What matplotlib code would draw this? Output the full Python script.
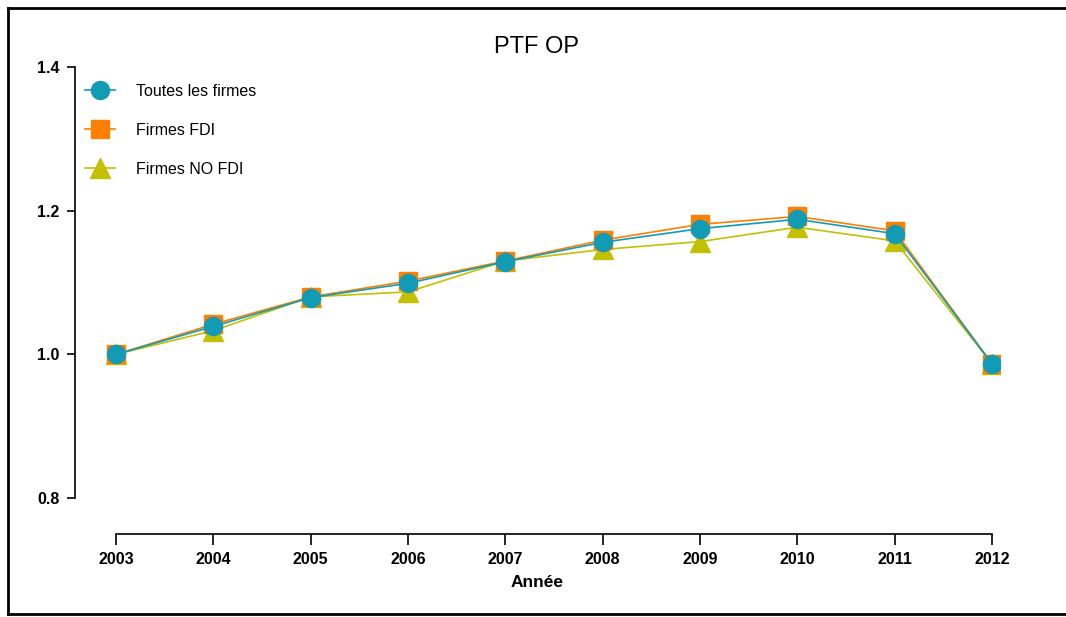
import matplotlib
matplotlib.use('Agg')
import matplotlib.pyplot as plt
from matplotlib.lines import Line2D

annees = [2003, 2004, 2005, 2006, 2007, 2008, 2009, 2010, 2011, 2012]
toutes = [1.000, 1.039, 1.079, 1.099, 1.129, 1.156, 1.175, 1.188, 1.168, 0.987]
fdi = [1.000, 1.042, 1.080, 1.102, 1.130, 1.159, 1.181, 1.192, 1.172, 0.987]
no_fdi = [1.000, 1.033, 1.080, 1.087, 1.130, 1.146, 1.157, 1.177, 1.158, 0.987]
y_ticks = [0.8, 1.0, 1.2, 1.4]

teal = "#119bb5"
orange = "#ff7f00"
olive = "#c2c000"

plt.rcParams['font.family'] = ['Liberation Sans', 'DejaVu Sans']

fig = plt.figure(figsize=(10.66, 6.17), dpi=100)
ax = fig.add_axes([75/1066, 1 - 534/617, 925/1066, 467/617])

ax.plot(annees, no_fdi, color=olive, lw=1.2, marker='^', ms=14, mec=olive, zorder=3)
ax.plot(annees, fdi, color=orange, lw=1.2, marker='s', ms=13, mec=orange, zorder=4)
ax.plot(annees, toutes, color=teal, lw=1.2, marker='o', ms=13, mec=teal, zorder=5)

ax.set_xlim(2003 - 41/97.33, 2012 + 8/97.33)
ax.set_ylim(0.75, 1.4)
ax.set_xticks(annees)
ax.set_yticks(y_ticks)
ax.set_xticklabels([str(a) for a in annees], fontsize=11.5, fontweight='bold')
ax.set_yticklabels([f"{v:.1f}" for v in y_ticks], fontsize=11.5, fontweight='bold')

ax.spines['right'].set_visible(False)
ax.spines['top'].set_visible(False)
ax.spines['left'].set_bounds(0.8, 1.4)
ax.spines['bottom'].set_bounds(2003, 2012)
ax.spines['left'].set_linewidth(1.2)
ax.spines['bottom'].set_linewidth(1.2)
ax.tick_params(axis='x', length=8, width=1.2, pad=5)
ax.tick_params(axis='y', length=6, width=1.2, pad=5)

ax.set_xlabel("Année", fontsize=12.5, fontweight='bold', labelpad=6)
fig.text(537/1066, 1 - 47/617, "PTF OP", fontsize=17, ha='center', va='center')

handles = [
    Line2D([], [], color=teal, lw=1.2, marker='o', ms=13, mec=teal),
    Line2D([], [], color=orange, lw=1.2, marker='s', ms=13, mec=orange),
    Line2D([], [], color=olive, lw=1.2, marker='^', ms=14, mec=olive),
]
ax.legend(handles, ["Toutes les firmes", "Firmes FDI", "Firmes NO FDI"],
          loc='upper left', bbox_to_anchor=(0.0, 0.985), frameon=False,
          fontsize=11.5, handlelength=1.9, handletextpad=1.3, labelspacing=1.5,
          borderaxespad=0.2)

# cadre autour de la figure
fig.add_artist(Line2D([8/1066, 1], [1 - 8/617, 1 - 8/617], color='black', lw=2))
fig.add_artist(Line2D([8/1066, 8/1066], [1 - 8/617, 1 - 614/617], color='black', lw=2))
fig.add_artist(Line2D([8/1066, 1], [1 - 614/617, 1 - 614/617], color='black', lw=2))

fig.savefig("out.png", dpi=100)
